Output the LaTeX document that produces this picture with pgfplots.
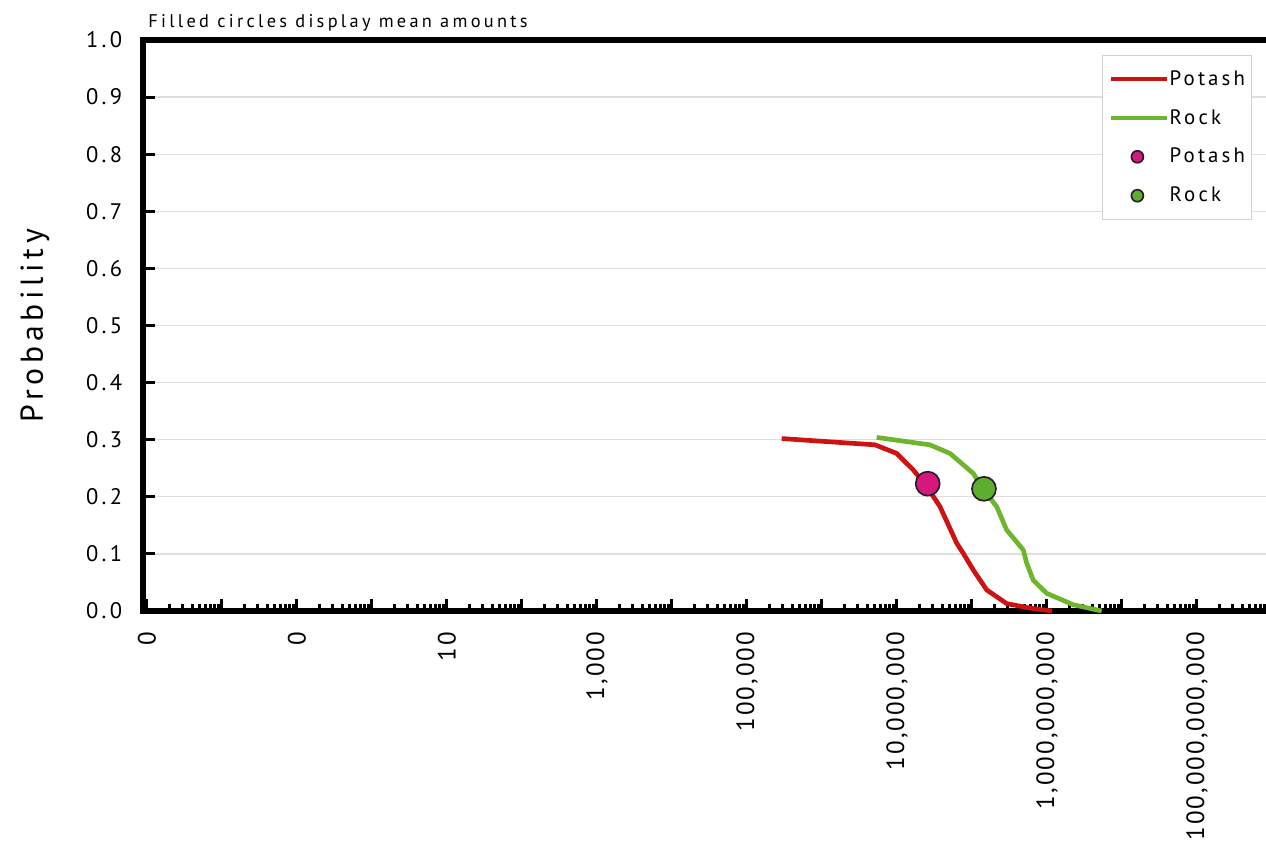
\documentclass[border=0pt]{standalone}
\usepackage{fontspec}
\setmainfont{PT Sans}
\newfontfamily\spaced[LetterSpace=15]{PT Sans}
\newfontfamily\spacedx[LetterSpace=8]{PT Sans}
\newfontfamily\spacedb[LetterSpace=18]{PT Sans}
\usepackage{pgfplots}
\pgfplotsset{compat=1.18}
\definecolor{potline}{HTML}{CC1212}
\definecolor{rockline}{HTML}{6DB52D}
\definecolor{potmark}{HTML}{D6177C}
\definecolor{rockmark}{HTML}{5DAE2E}
\definecolor{edgec}{HTML}{2A1A2A}
\pgfplotsset{
  lineleg/.style={legend image code/.code={\draw[##1] (0pt,0pt) -- (33.6pt,0pt);}},
  markleg/.style={legend image code/.code={\draw[##1, mark size=3.6pt] plot coordinates {(15.6pt,0pt)};}},
}
\begin{document}
\begin{tikzpicture}
\begin{axis}[
  name=ax,
  at={(0,0)}, anchor=south west,
  scale only axis, width=688.2pt, height=342.6pt,
  xmode=log, log basis x=10,
  xmin=8.85e-4, xmax=1.74e12,
  ymin=0, ymax=1,
  clip=false,
  axis line style={line width=3.2pt, black},
  tick align=inside, xtick pos=left, ytick pos=left,
  major tick length=7.5pt, minor tick length=4.5pt,
  every tick/.style={black, line width=1.8pt},
  xtick={1e-3,1e-2,1e-1,1e0,1e1,1e2,1e3,1e4,1e5,1e6,1e7,1e8,1e9,1e10,1e11,1e12},
  xticklabels={0,,0,,10,,{1,000},,{100,000},,{10,000,000},,{1,000,000,000},,{100,000,000,000},},
  minor xtick={2e-3,3e-3,4e-3,5e-3,6e-3,7e-3,8e-3,9e-3,
    2e-2,3e-2,4e-2,5e-2,6e-2,7e-2,8e-2,9e-2,
    2e-1,3e-1,4e-1,5e-1,6e-1,7e-1,8e-1,9e-1,
    2e0,3e0,4e0,5e0,6e0,7e0,8e0,9e0,
    2e1,3e1,4e1,5e1,6e1,7e1,8e1,9e1,
    2e2,3e2,4e2,5e2,6e2,7e2,8e2,9e2,
    2e3,3e3,4e3,5e3,6e3,7e3,8e3,9e3,
    2e4,3e4,4e4,5e4,6e4,7e4,8e4,9e4,
    2e5,3e5,4e5,5e5,6e5,7e5,8e5,9e5,
    2e6,3e6,4e6,5e6,6e6,7e6,8e6,9e6,
    2e7,3e7,4e7,5e7,6e7,7e7,8e7,9e7,
    2e8,3e8,4e8,5e8,6e8,7e8,8e8,9e8,
    2e9,3e9,4e9,5e9,6e9,7e9,8e9,9e9,
    2e10,3e10,4e10,5e10,6e10,7e10,8e10,9e10,
    2e11,3e11,4e11,5e11,6e11,7e11,8e11,9e11},
  ytick={0,0.1,0.2,0.3,0.4,0.5,0.6,0.7,0.8,0.9,1},
  yticklabels={0.0,0.1,0.2,0.3,0.4,0.5,0.6,0.7,0.8,0.9,1.0},
  /pgf/number format/assume math mode=true,
  xticklabel style={rotate=90, anchor=east, font=\fontsize{15}{17}\selectfont\spacedx},
  xticklabel shift=9pt,
  yticklabel style={font=\fontsize{13.5}{15}\selectfont\spaced},
  yticklabel shift=9pt,
  ymajorgrids,
  major grid style={gray!25, line width=0.8pt},
  legend style={at={(0.967,0.974)}, anchor=north east, draw=gray!35, line width=0.6pt,
    font=\fontsize{12.5}{14}\selectfont\spaced, row sep=9pt, inner xsep=4pt, inner ysep=7pt,
    nodes={inner xsep=0pt}},
  legend cell align=left,
]
\addplot[potline, line width=2.8pt, line join=round, mark=none, lineleg]
  coordinates {(2.9e5,0.302) (5.1e6,0.291) (9.9e6,0.276) (1.65e7,0.247) (2.49e7,0.218)
   (3.74e7,0.183) (6.25e7,0.119) (7.66e7,0.101) (1.04e8,0.072) (1.57e8,0.037)
   (2.9e8,0.013) (5.93e8,0.005) (1.16e9,0.0)};
\addlegendentry{Potash}
\addplot[rockline, line width=2.8pt, line join=round, mark=none, lineleg]
  coordinates {(5.36e6,0.304) (2.75e7,0.291) (5.09e7,0.276) (1.04e8,0.241) (1.42e8,0.213)
   (2.13e8,0.183) (2.9e8,0.142) (4.83e8,0.107) (5.36e8,0.084) (6.56e8,0.054)
   (9.9e8,0.031) (2.24e9,0.011) (5.36e9,0.0)};
\addlegendentry{Rock}
\addplot[only marks, mark=*, mark size=7.2pt, mark options={fill=potmark, draw=edgec, line width=1pt}, markleg]
  coordinates {(2.57e7,0.223)};
\addlegendentry{Potash}
\addplot[only marks, mark=*, mark size=7.2pt, mark options={fill=rockmark, draw=edgec, line width=1pt}, markleg]
  coordinates {(1.445e8,0.214)};
\addlegendentry{Rock}
\end{axis}
\node[anchor=base west, inner xsep=0pt, font=\fontsize{11}{13}\selectfont\spacedb] at ([xshift=3pt, yshift=7.5pt]ax.north west) {Filled circles display mean amounts};
\node[rotate=90, anchor=center, font=\fontsize{19}{22}\selectfont\spaced] at ([xshift=-64.8pt]ax.west) {Probability};
\pgfresetboundingbox
\useasboundingbox (-85.8pt,-149.4pt) rectangle (673.8pt,366.6pt);
\end{tikzpicture}
\end{document}
